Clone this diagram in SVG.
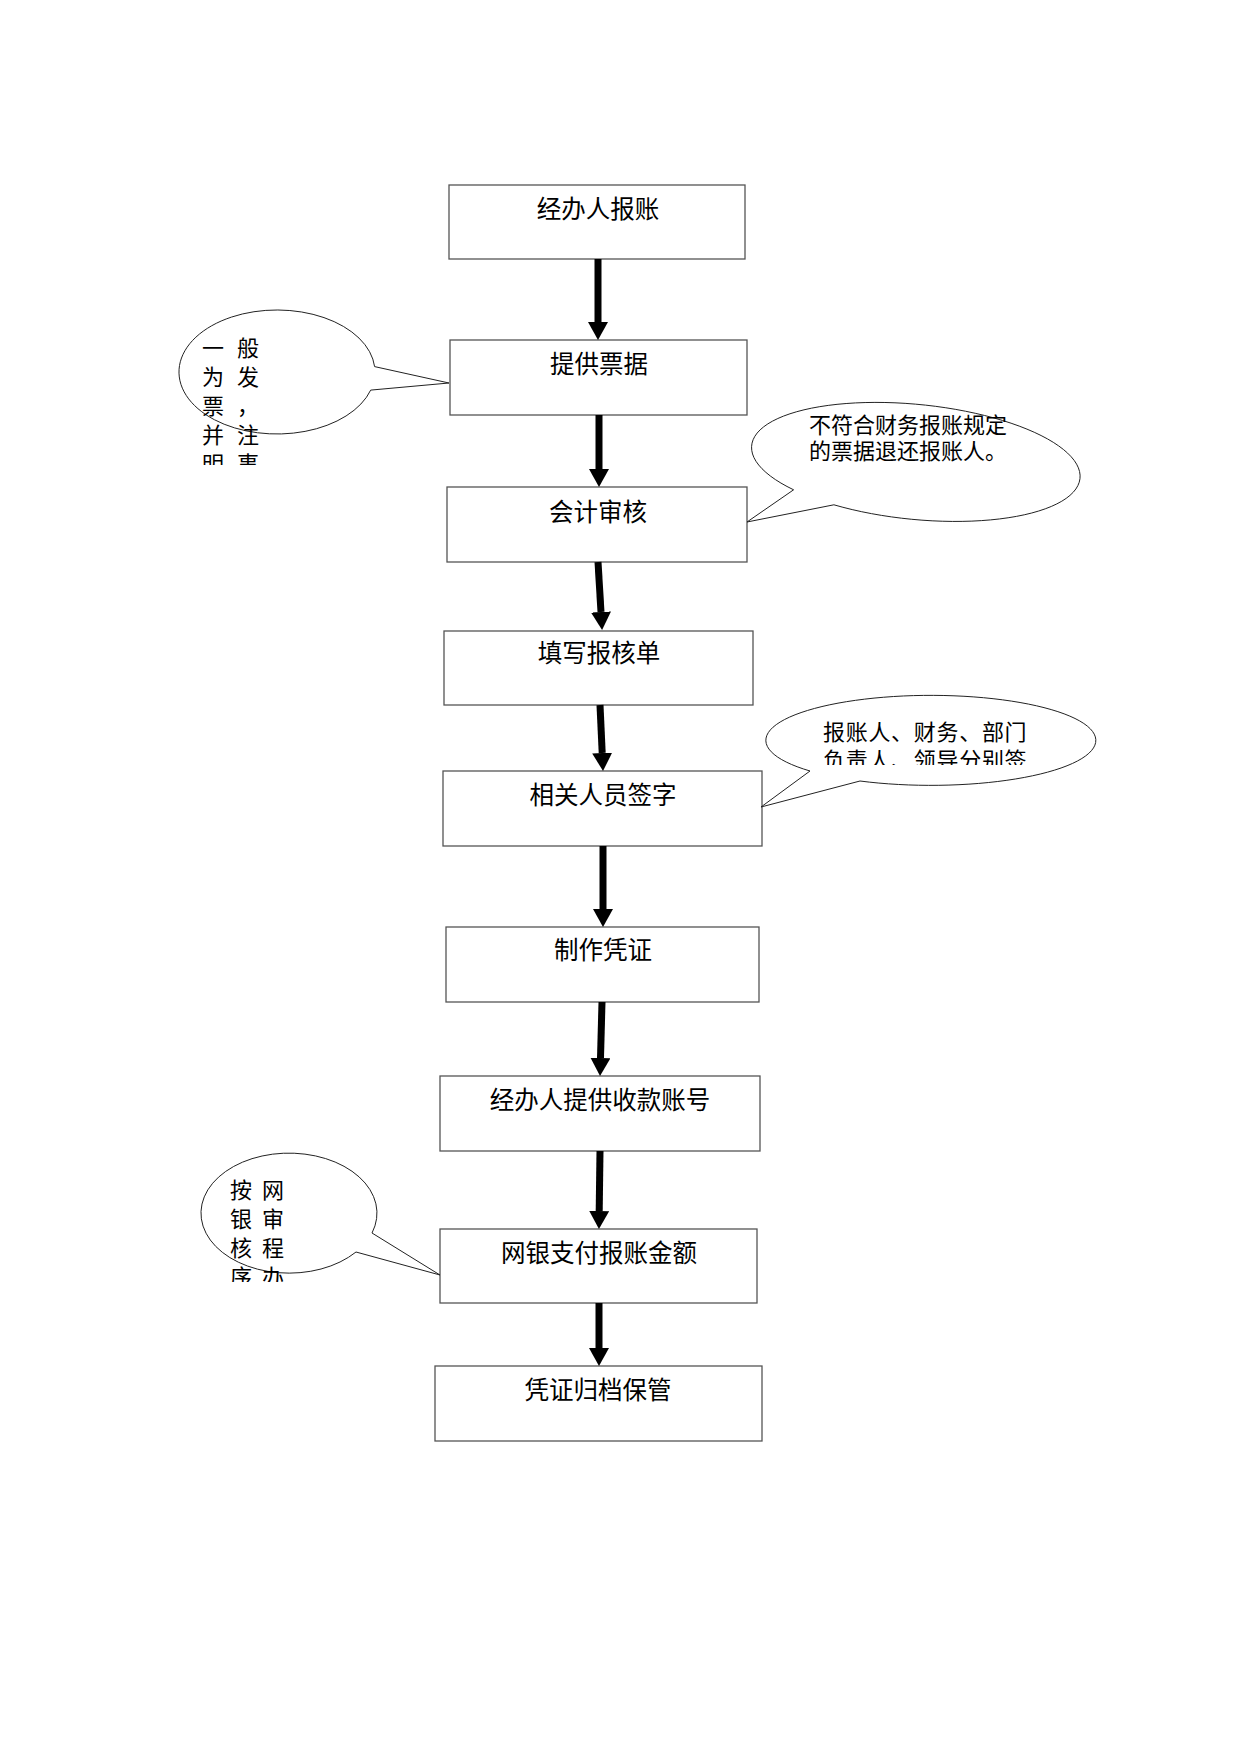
<svg xmlns="http://www.w3.org/2000/svg" width="1240" height="1754" viewBox="0 0 1240 1754">
<style>
.box{fill:#fff;stroke:#555;stroke-width:1.3}
.bt{font-family:"Noto Sans CJK SC","Liberation Sans",sans-serif;font-size:24.5px;fill:#000;text-anchor:middle}
.ct{font-family:"Noto Sans CJK SC","Liberation Sans",sans-serif;font-size:22px;fill:#000}
.cm{font-family:"Noto Sans CJK SC","Liberation Sans",sans-serif;font-size:22px;fill:#000;text-anchor:middle}
.call{fill:#fff;stroke:#222;stroke-width:1}
.arr{stroke:#000;stroke-width:7;fill:none;marker-end:url(#ah)}
</style>
<defs>
<marker id="ah" markerUnits="userSpaceOnUse" viewBox="0 0 18 20" markerWidth="18" markerHeight="20" refX="0" refY="10" orient="auto">
<path d="M0,0 L18,10 L0,20 Z" fill="#000"/>
</marker>
<clipPath id="c1"><rect x="150" y="300" width="250" height="165"/></clipPath>
<clipPath id="c3"><rect x="760" y="690" width="340" height="75"/></clipPath>
<clipPath id="c4"><rect x="190" y="1140" width="200" height="142"/></clipPath>
</defs>
<rect width="1240" height="1754" fill="#fff"/>

<g id="n1"><rect class="box" x="449" y="185" width="296" height="74"/><text class="bt" x="598" y="217.5">经办人报账</text></g>
<g id="n2"><rect class="box" x="450" y="340" width="297" height="75"/><text class="bt" x="599" y="372.5">提供票据</text></g>
<g id="n3"><rect class="box" x="447" y="487" width="300" height="75"/><text class="bt" x="598" y="521">会计审核</text></g>
<g id="n4"><rect class="box" x="444" y="631" width="309" height="74"/><text class="bt" x="599" y="661.5">填写报核单</text></g>
<g id="n5"><rect class="box" x="443" y="771" width="319" height="75"/><text class="bt" x="603" y="803.5">相关人员签字</text></g>
<g id="n6"><rect class="box" x="446" y="927" width="313" height="75"/><text class="bt" x="603" y="958.5">制作凭证</text></g>
<g id="n7"><rect class="box" x="440" y="1076" width="320" height="75"/><text class="bt" x="600" y="1108.5">经办人提供收款账号</text></g>
<g id="n8"><rect class="box" x="440" y="1229" width="317" height="74"/><text class="bt" x="599" y="1261.5">网银支付报账金额</text></g>
<g id="n9"><rect class="box" x="435" y="1366" width="327" height="75"/><text class="bt" x="598" y="1398.5">凭证归档保管</text></g>

<g id="connectors">
<path class="arr" d="M598,259 L598,322"/>
<path class="arr" d="M599,415 L599,469"/>
<path class="arr" d="M598,562 L601,612"/>
<path class="arr" d="M600,705 L602.2,753"/>
<path class="arr" d="M603,846 L603,909"/>
<path class="arr" d="M602,1002 L600.5,1058"/>
<path class="arr" d="M600,1151 L599.2,1211"/>
<path class="arr" d="M599,1303 L599,1348"/>
</g>

<g id="callout1">
<path class="call" d="M370.7,390.1 L449,383 L374.6,366.6 A98 62 0 1 0 370.7,390.1 Z"/>
<g clip-path="url(#c1)">
<text class="cm"><tspan x="213" y="356">一</tspan><tspan x="248" y="356">般</tspan></text>
<text class="cm"><tspan x="213" y="385">为</tspan><tspan x="248" y="385">发</tspan></text>
<text class="cm"><tspan x="213" y="414">票</tspan><tspan x="248" y="414">，</tspan></text>
<text class="cm"><tspan x="213" y="443">并</tspan><tspan x="248" y="443">注</tspan></text>
<text class="cm"><tspan x="213" y="472">明</tspan><tspan x="248" y="472">事</tspan></text>
</g>
</g>

<g id="callout2">
<path class="call" d="M793.6,489.8 L747,522 L833.9,504.8 A165 57.5 5.7 1 0 793.6,489.8 Z"/>
<text class="ct" x="809" y="433">不符合财务报账规定</text>
<text class="ct" x="809" y="458.5">的票据退还报账人。</text>
</g>

<g id="callout3">
<path class="call" d="M810,771 L761,807 L860,781 A165 45 0 1 0 810,771 Z"/>
<g clip-path="url(#c3)">
<text class="ct" x="823" y="740" letter-spacing="0.7">报账人、财务、部门</text>
<text class="ct" x="823" y="768" letter-spacing="0.7">负责人、领导分别签</text>
</g>
</g>

<g id="callout4">
<path class="call" d="M356,1252 L440,1275 L372,1233 A88 60 0 1 0 356,1252 Z"/>
<g clip-path="url(#c4)">
<text class="cm"><tspan x="241" y="1198">按</tspan><tspan x="273" y="1198">网</tspan></text>
<text class="cm"><tspan x="241" y="1227">银</tspan><tspan x="273" y="1227">审</tspan></text>
<text class="cm"><tspan x="241" y="1256">核</tspan><tspan x="273" y="1256">程</tspan></text>
<text class="cm"><tspan x="241" y="1285">序</tspan><tspan x="273" y="1285">办</tspan></text>
</g>
</g>
</svg>
